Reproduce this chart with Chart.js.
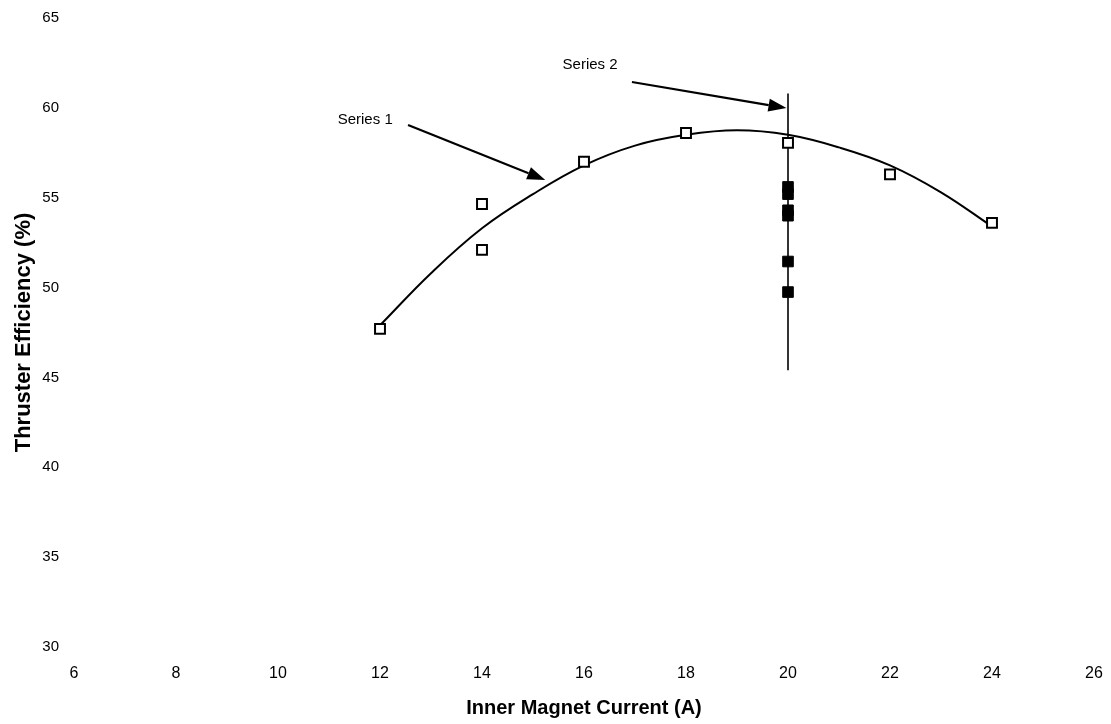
<!DOCTYPE html>
<html>
<head>
<meta charset="utf-8">
<script src="https://cdn.jsdelivr.net/npm/chart.js@4.4.1/dist/chart.umd.min.js"></script>
<style>
  html, body { margin: 0; padding: 0; background: #fff; }
  #wrap { width: 1111px; height: 724px; }
</style>
</head>
<body>
<div id="wrap"><canvas id="myChart" width="1111" height="724"></canvas></div>
<script>
// values
const xTicks = [6, 8, 10, 12, 14, 16, 18, 20, 22, 24, 26]
const yTicks = [30, 35, 40, 45, 50, 55, 60, 65]

const series1X = [12, 14, 14, 16, 18, 20, 22, 24]
const series1Y = [47.7, 54.65, 52.1, 57.0, 58.6, 58.05, 56.3, 53.6]

const series2X = [20, 20, 20, 20, 20, 20]
const series2Y = [55.6, 55.2, 54.3, 54.0, 51.45, 49.75]

// trend curve, read at whole amps
const curveX = [12, 13, 14, 15, 16, 17, 18, 19, 20, 21, 22, 23, 24]
const curveY = [47.9, 50.8, 53.3, 55.2, 56.8, 57.9, 58.5, 58.75, 58.5, 57.8, 56.8, 55.3, 53.4]

// vertical line at 20 A
const vLineX = [20, 20]
const vLineY = [45.4, 60.8]

// callouts (data units)
const calloutText = ['Series 1', 'Series 2']
const calloutTextX = [11.71, 16.12]
const calloutTextY = [59.33, 62.39]
const arrowFromX = [12.55, 16.94]
const arrowFromY = [59.05, 61.44]
const arrowToX = [15.24, 19.97]
const arrowToY = [55.99, 59.99]

const toPoints = (xs, ys) => xs.map((x, i) => ({ x: x, y: ys[i] }))

const callouts = {
    id: 'callouts',
    afterDatasetsDraw(chart) {
        const { ctx, scales: { x, y } } = chart
        ctx.save()
        ctx.fillStyle = '#000'
        ctx.strokeStyle = '#000'
        ctx.font = '15px "Liberation Sans", Arial, sans-serif'
        ctx.textAlign = 'center'
        ctx.textBaseline = 'middle'
        calloutText.forEach((t, i) => {
            ctx.fillText(t, x.getPixelForValue(calloutTextX[i]), y.getPixelForValue(calloutTextY[i]))
            const x0 = x.getPixelForValue(arrowFromX[i])
            const y0 = y.getPixelForValue(arrowFromY[i])
            const x1 = x.getPixelForValue(arrowToX[i])
            const y1 = y.getPixelForValue(arrowToY[i])
            const ang = Math.atan2(y1 - y0, x1 - x0)
            const headLen = 18, headW = 6.5
            const bx = x1 - headLen * Math.cos(ang)
            const by = y1 - headLen * Math.sin(ang)
            ctx.lineWidth = 2.2
            ctx.beginPath()
            ctx.moveTo(x0, y0)
            ctx.lineTo(bx, by)
            ctx.stroke()
            ctx.beginPath()
            ctx.moveTo(x1, y1)
            ctx.lineTo(bx + headW * Math.sin(ang), by - headW * Math.cos(ang))
            ctx.lineTo(bx - headW * Math.sin(ang), by + headW * Math.cos(ang))
            ctx.closePath()
            ctx.fill()
        })
        ctx.restore()
    }
}

const ctx1 = document.getElementById('myChart')
let myChart1 = new Chart(ctx1, {
    type: 'scatter',
    data: {
        datasets: [{
            label: 'Fit',
            data: toPoints(curveX, curveY),
            showLine: true,
            borderColor: '#000',
            borderWidth: 2,
            tension: 0.4,
            pointRadius: 0,
            order: 3
        }, {
            label: 'Line 20 A',
            data: toPoints(vLineX, vLineY),
            showLine: true,
            borderColor: '#000',
            borderWidth: 1.6,
            pointRadius: 0,
            order: 4
        }, {
            label: 'Series 1',
            data: toPoints(series1X, series1Y),
            pointStyle: 'rect',
            pointRadius: 7,
            pointBorderWidth: 2,
            pointBorderColor: '#000',
            pointBackgroundColor: '#fff',
            order: 1
        }, {
            label: 'Series 2',
            data: toPoints(series2X, series2Y),
            pointStyle: 'rect',
            pointRadius: 7.5,
            pointBorderWidth: 1,
            pointBorderColor: '#000',
            pointBackgroundColor: '#000',
            order: 2
        }]
    },
    options: {
        responsive: false,
        animation: false,
        layout: { padding: { top: 18, right: 17, left: 0, bottom: 0 } },
        plugins: {
            legend: { display: false },
            tooltip: { enabled: false }
        },
        scales: {
            x: {
                type: 'linear',
                min: 6,
                max: 26,
                afterBuildTicks: (s) => { s.ticks = xTicks.map(v => ({ value: v })) },
                afterFit: (s) => {
                    s.height = 77
                    s.paddingLeft = 0
                    s.paddingRight = 0
                },
                grid: { display: false, drawTicks: false },
                border: { display: false },
                ticks: {
                    color: '#000',
                    padding: 17,
                    maxRotation: 0,
                    font: { family: '"Liberation Sans", Arial, sans-serif', size: 16 }
                },
                title: {
                    display: true,
                    text: 'Inner Magnet Current (A)',
                    color: '#000',
                    padding: { top: 0, bottom: 4 },
                    font: { family: '"Liberation Sans", Arial, sans-serif', size: 20, weight: 'bold' }
                }
            },
            y: {
                type: 'linear',
                min: 30,
                max: 65,
                afterBuildTicks: (s) => { s.ticks = yTicks.map(v => ({ value: v })) },
                afterFit: (s) => {
                    s.width = 74
                    s.paddingTop = 0
                    s.paddingBottom = 0
                },
                grid: { display: false, drawTicks: false },
                border: { display: false },
                ticks: {
                    color: '#000',
                    padding: 15,
                    font: { family: '"Liberation Sans", Arial, sans-serif', size: 15 }
                },
                title: {
                    display: true,
                    text: 'Thruster Efficiency (%)',
                    color: '#000',
                    padding: { top: 11, bottom: 0 },
                    font: { family: '"Liberation Sans", Arial, sans-serif', size: 22, weight: 'bold' }
                }
            }
        }
    },
    plugins: [callouts]
})
</script>
</body>
</html>
